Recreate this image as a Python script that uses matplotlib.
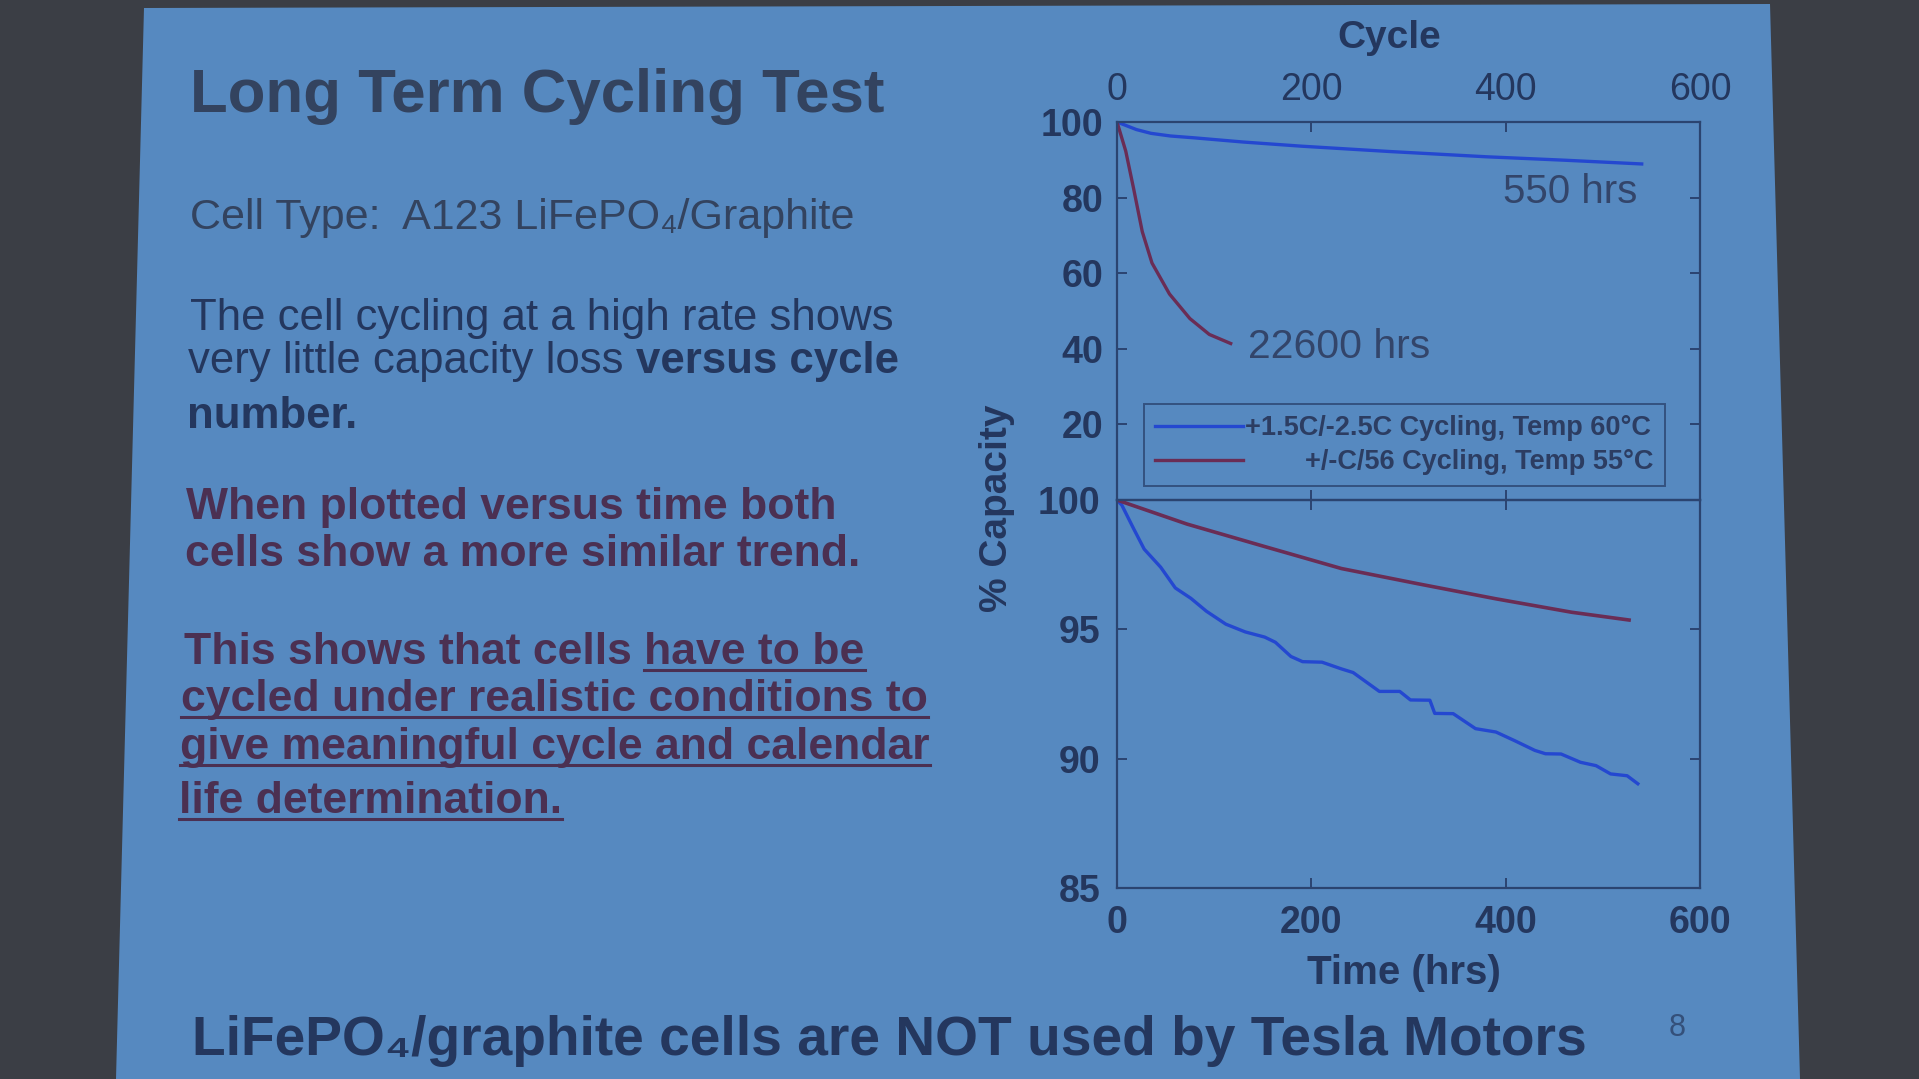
import matplotlib.pyplot as plt
from matplotlib.patches import Polygon
from matplotlib.lines import Line2D

plt.rcParams['font.family'] = ['Liberation Sans', 'DejaVu Sans']

W, H = 1919, 1079

# ---- data ----
# top panel: % capacity vs cycle number
cyc_fast = [0, 10, 20, 35, 55, 80, 130, 190, 280, 380, 460, 540]
cap_fast_cyc = [100, 99.0, 98.0, 97.0, 96.3, 95.8, 94.7, 93.6, 92.2, 90.8, 89.9, 88.9]
cyc_slow = [0, 9, 17, 26, 36, 54, 75, 95, 117]
cap_slow_cyc = [100, 92.3, 82.5, 71.0, 62.7, 54.5, 48.0, 43.8, 41.4]

# bottom panel: % capacity vs time (hrs)
hrs_fast = [0, 5, 17, 28, 45, 60, 76, 92, 112, 132, 152, 163, 179, 191, 211, 231, 243,
            270, 291, 302, 322, 327, 346, 369, 390, 409, 430, 441, 457, 477, 493, 508, 525, 536]
cap_fast_hrs = [100, 99.8, 98.9, 98.1, 97.4, 96.6, 96.2, 95.7, 95.2, 94.9, 94.7, 94.5, 93.95,
                93.75, 93.73, 93.47, 93.33, 92.6, 92.6, 92.27, 92.26, 91.75, 91.74, 91.16,
                91.03, 90.7, 90.32, 90.19, 90.18, 89.86, 89.73, 89.41, 89.34, 89.03]
hrs_slow = [0, 72, 152, 231, 310, 390, 468, 527]
cap_slow_hrs = [100, 99.07, 98.2, 97.35, 96.76, 96.18, 95.66, 95.36]

label_fast = '+1.5C/-2.5C Cycling, Temp 60°C'
label_slow = '        +/-C/56 Cycling, Temp 55°C'
x_ticks = [0, 200, 400, 600]
top_yticks = [20, 40, 60, 80, 100]
bot_yticks = [85, 90, 95, 100]

# colours
slide_col = '#5689c0'
navy = '#24375e'
title_col = '#33435f'
maroon = '#4b3052'
blue_line = '#2448d0'
red_line = '#6a2d55'
frame_col = '#2b4470'


def px(x):
    return x / W


def py(y):
    return 1 - y / H


fig = plt.figure(figsize=(W / 100, H / 100), dpi=100)
fig.patch.set_facecolor('#3b3e45')
fig.add_artist(Polygon([(px(144), py(8)), (px(1770), py(4)), (px(1800), py(1079)), (px(116), py(1079))],
                       closed=True, transform=fig.transFigure, facecolor=slide_col,
                       edgecolor='none', zorder=0))

renderer = fig.canvas.get_renderer()


def text_width(s, **kw):
    t = fig.text(0, 0, s, **kw)
    w = t.get_window_extent(renderer=renderer).width
    t.remove()
    return w


def text_line(x, y, parts, size, color):
    # parts: (string, bold, underline); y is the baseline in pixels from top
    for s, bold, ul in parts:
        kw = dict(fontsize=size, color=color, fontweight='bold' if bold else 'normal')
        t = fig.text(px(x), py(y), s, va='baseline', ha='left', **kw)
        if ul:
            bb = t.get_window_extent(renderer=renderer)
            fig.add_artist(Line2D([px(bb.x0), px(bb.x1)], [py(y + 6), py(y + 6)],
                                  transform=fig.transFigure, color=color, lw=2.2))
        x += text_width(s + 'x', **kw) - text_width('x', **kw)


# ---- left column text ----
fig.text(px(190), py(112), 'Long Term Cycling Test', fontsize=44.5, fontweight='bold',
         color=title_col, va='baseline')
fig.text(px(190), py(229), 'Cell Type:  A123 LiFePO\u2084/Graphite', fontsize=31,
         color=title_col, va='baseline')

body = 31.5
bold_body = 32
text_line(190, 330, [('The cell cycling at a high rate shows', False, False)], body, navy)
text_line(188, 373, [('very little capacity loss ', False, False), ('versus cycle', True, False)], body, navy)
text_line(187, 428, [('number.', True, False)], body, navy)

text_line(186, 519, [('When plotted versus time both', True, False)], bold_body, maroon)
text_line(185, 566, [('cells show a more similar trend.', True, False)], bold_body, maroon)

text_line(184, 664, [('This shows that cells ', True, False), ('have to be', True, True)], bold_body, maroon)
text_line(181, 711, [('cycled under realistic conditions to', True, True)], bold_body, maroon)
text_line(180, 759, [('give meaningful cycle and calendar', True, True)], bold_body, maroon)
text_line(179, 813, [('life determination.', True, True)], bold_body, maroon)

fig.text(px(192), py(1055), 'LiFePO\u2084/graphite cells are NOT used by Tesla Motors',
         fontsize=39.7, fontweight='bold', color=navy, va='baseline')
fig.text(px(1677), py(1028), '8', fontsize=22, color='#34507a', ha='center', va='center')

# ---- chart ----
ax_top = fig.add_axes([px(1117), py(500), 583 / W, 378 / H])
ax_bot = fig.add_axes([px(1117), py(888), 583 / W, 388 / H])

ax_top.plot(cyc_fast, cap_fast_cyc, color=blue_line, lw=2.4, label=label_fast)
ax_top.plot(cyc_slow, cap_slow_cyc, color=red_line, lw=2.4, label=label_slow)
ax_bot.plot(hrs_fast, cap_fast_hrs, color=blue_line, lw=2.4)
ax_bot.plot(hrs_slow, cap_slow_hrs, color=red_line, lw=2.6)

ax_top.set_xlim(0, 600)
ax_top.set_ylim(0, 100)
ax_top.set_xticks(x_ticks)
ax_top.set_yticks(top_yticks)
ax_bot.set_xlim(0, 600)
ax_bot.set_ylim(85, 100)
ax_bot.set_xticks(x_ticks)
ax_bot.set_yticks(bot_yticks)

for ax in (ax_top, ax_bot):
    ax.set_facecolor('none')
    for sp in ax.spines.values():
        sp.set_color(frame_col)
        sp.set_linewidth(1.6)
    ax.tick_params(direction='in', length=7, width=1.4, color=frame_col, top=True, right=True,
                   labelsize=27, labelcolor=navy, pad=12)
    for lab in ax.get_xticklabels() + ax.get_yticklabels():
        lab.set_fontweight('bold')

ax_top.tick_params(labeltop=True, labelbottom=False, pad=10)
ax_top.set_xlabel('Cycle', fontsize=28, fontweight='bold', color=navy)
ax_top.xaxis.set_label_position('top')
ax_top.xaxis.set_label_coords(0.467, 1.196)

ax_bot.set_xlabel('Time (hrs)', fontsize=29, fontweight='bold', color=navy)
ax_bot.xaxis.set_label_coords(0.492, -0.17)
ax_bot.set_ylabel('% Capacity', fontsize=28, fontweight='bold', color=navy)
ax_bot.yaxis.set_label_coords(-0.175, 0.98)

ax_top.text(466, 81.5, '550 hrs', fontsize=29, color='#33456a', ha='center', va='center')
ax_top.text(135, 40.5, '22600 hrs', fontsize=29.5, color='#33456a', ha='left', va='center')

leg = ax_top.legend(loc='lower left', bbox_to_anchor=(0.046, 0.037), borderaxespad=0,
                    fontsize=19.5, handlelength=3.25, handletextpad=0.1, labelspacing=0.3,
                    fancybox=False, frameon=True, borderpad=0.4)
leg.get_frame().set_facecolor('none')
leg.get_frame().set_edgecolor(frame_col)
leg.get_frame().set_linewidth(1.4)
for t in leg.get_texts():
    t.set_fontweight('bold')
    t.set_color('#2c3d62')

fig.savefig('out.png', dpi=100, facecolor=fig.get_facecolor())
